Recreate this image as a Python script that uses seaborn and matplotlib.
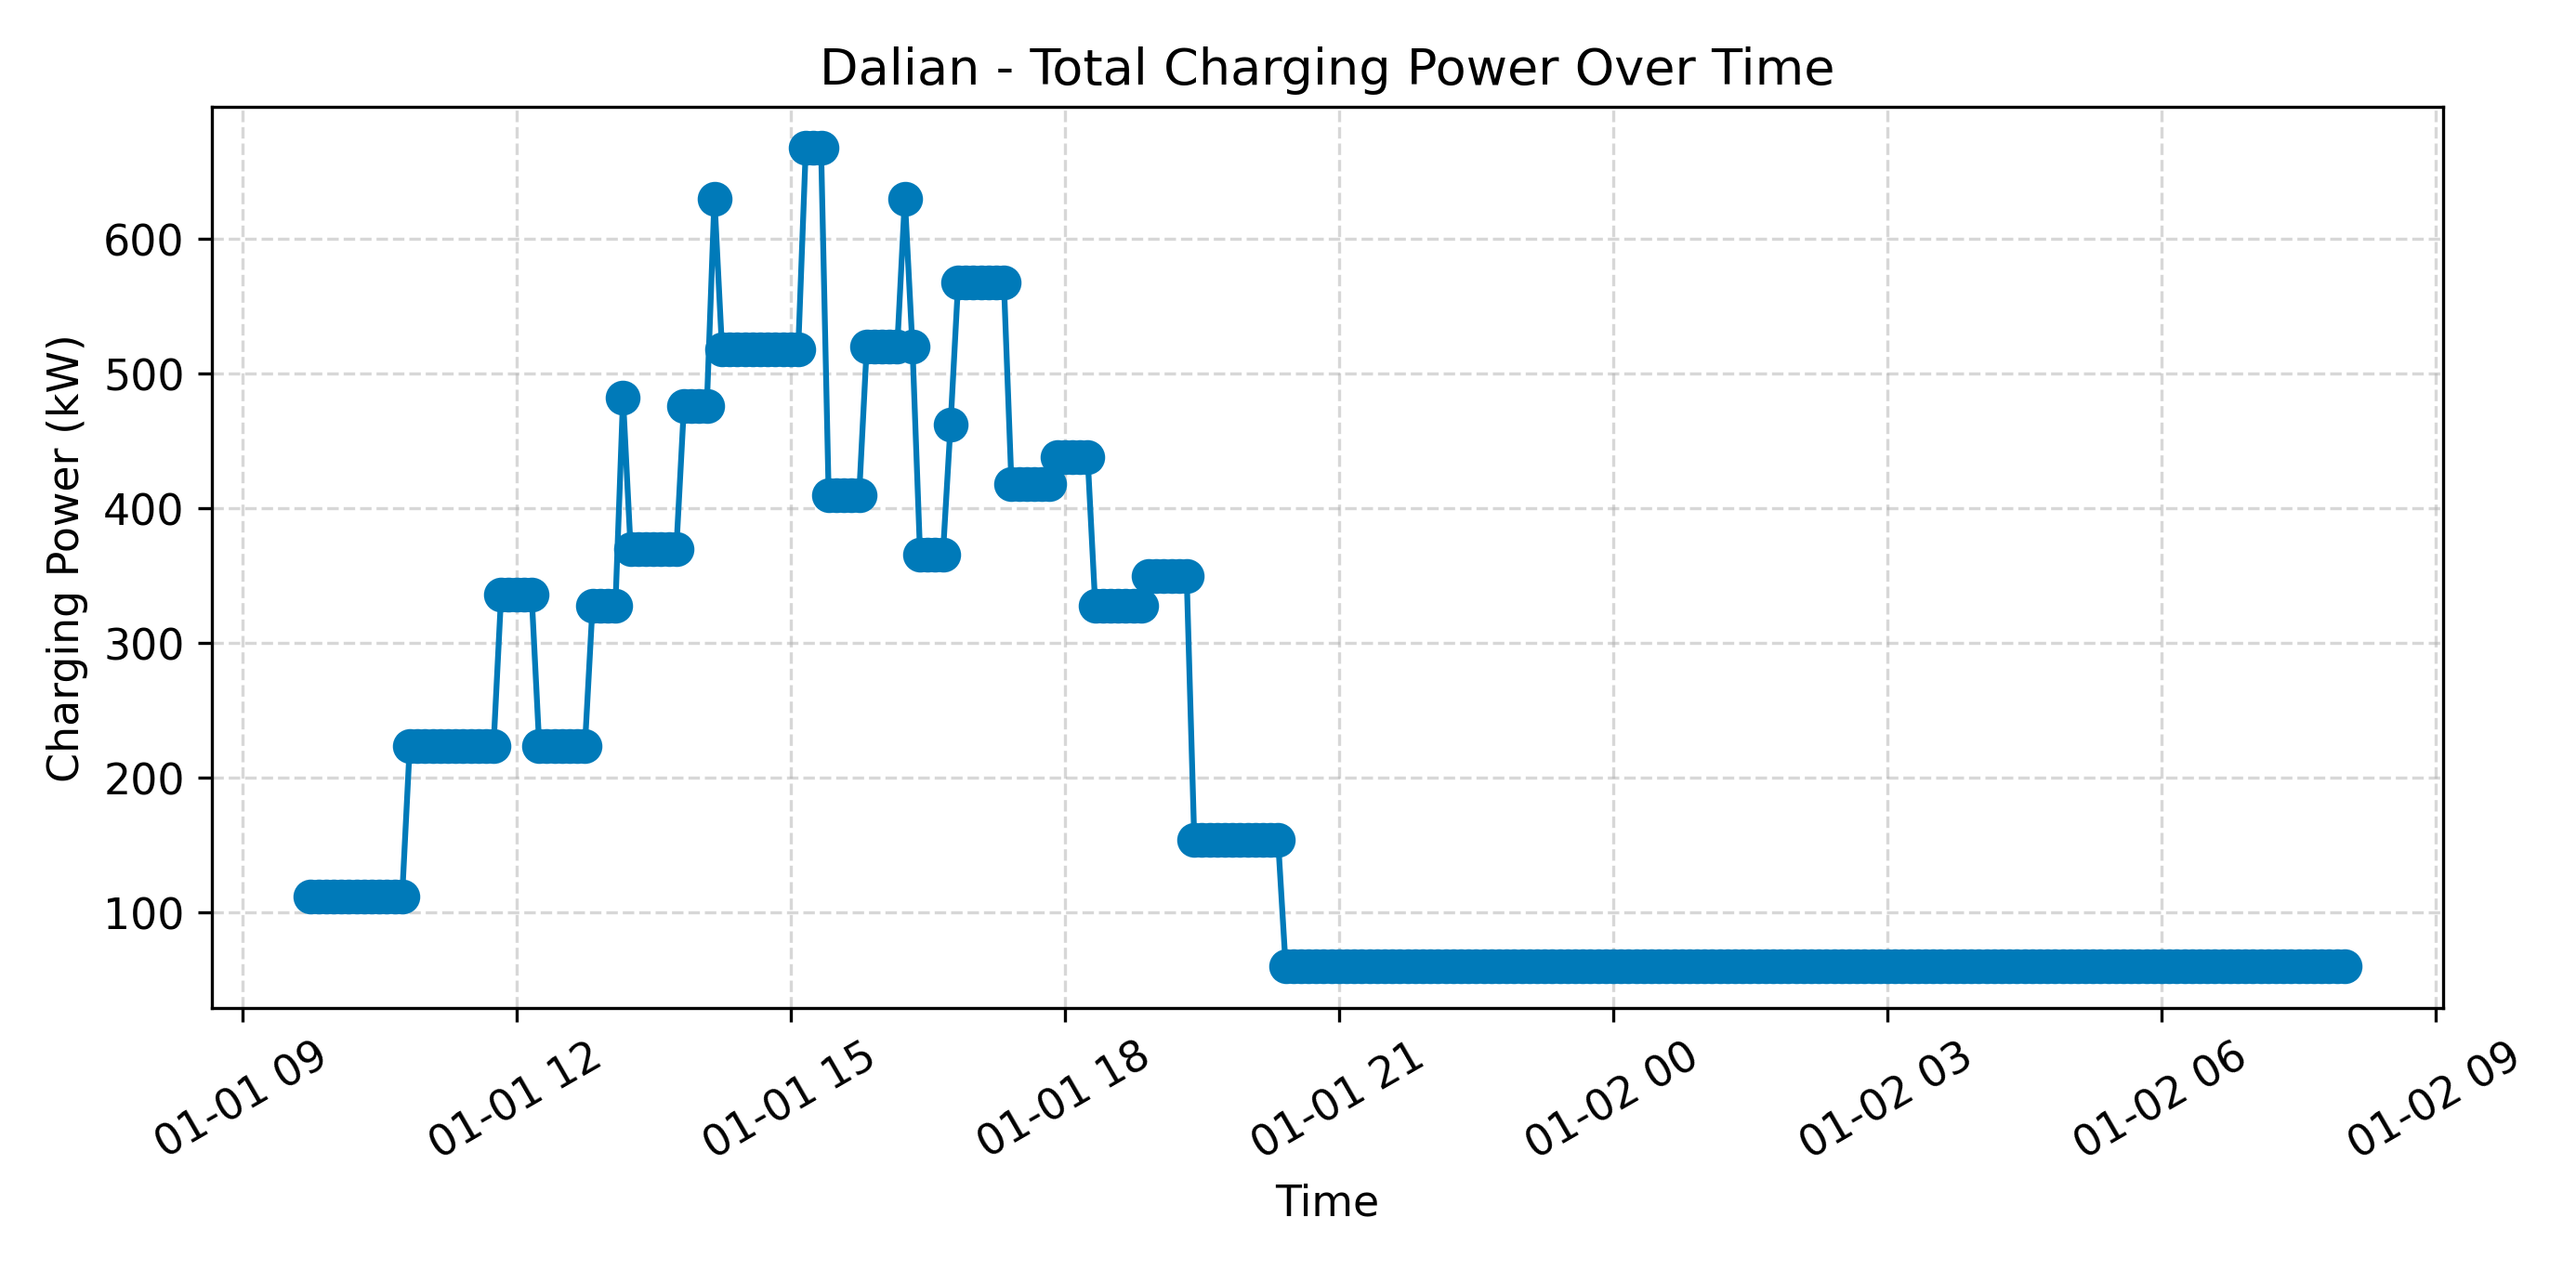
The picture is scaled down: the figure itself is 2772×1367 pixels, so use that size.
import numpy as np
import pandas as pd
import matplotlib
matplotlib.use("Agg")
import matplotlib.pyplot as plt
import matplotlib.dates as mdates
import seaborn as sb

# step levels: (start, end, kW)
seg_start = ["09:45", "10:50", "11:50", "12:15", "12:50", "13:10", "13:15", "13:50", "14:10", "14:15",
             "15:10", "15:25", "15:50", "16:15", "16:20", "16:25", "16:45", "16:50", "17:25", "17:55",
             "18:20", "18:55", "19:25", "20:25"]
seg_end = ["10:45", "11:45", "12:10", "12:45", "13:05", "13:10", "13:45", "14:05", "14:10", "15:05",
           "15:20", "15:45", "16:10", "16:15", "16:20", "16:40", "16:45", "17:20", "17:50", "18:15",
           "18:50", "19:20", "20:20", "32:00"]
seg_power = [112, 224, 336, 224, 328, 482, 370, 476, 630, 518,
             668, 410, 520, 630, 520, 366, 462, 568, 418, 438,
             328, 350, 154, 60]


def to_minutes(s):
    h, m = s.split(":")
    return int(h) * 60 + int(m)


def build_series():
    base = pd.Timestamp("2024-01-01")
    times, power = [], []
    for s, e, p in zip(seg_start, seg_end, seg_power):
        for m in range(to_minutes(s), to_minutes(e) + 1, 5):
            times.append(base + pd.Timedelta(minutes=m))
            power.append(p)
    return pd.DataFrame({"Time": times, "Power": power})


def main():
    plt.rcParams["font.size"] = 11
    data = build_series()
    fig, ax = plt.subplots(figsize=(9.24, 4.56), dpi=300)
    sb.lineplot(data=data, x="Time", y="Power", ax=ax, color="#007ab9",
                marker="o", markersize=9, markeredgewidth=0, linewidth=1.5)
    ax.set_title("Dalian - Total Charging Power Over Time", fontsize=13)
    ax.set_xlabel("Time")
    ax.set_ylabel("Charging Power (kW)")
    ax.grid(True, linestyle="--", alpha=0.5)
    ax.xaxis.set_major_locator(mdates.HourLocator(byhour=range(0, 24, 3)))
    ax.xaxis.set_major_formatter(mdates.DateFormatter("%m-%d %H"))
    ax.set_xlim(pd.Timestamp("2024-01-01 08:40"), pd.Timestamp("2024-01-02 09:05"))
    plt.setp(ax.get_xticklabels(), rotation=30)
    plt.tight_layout()
    plt.savefig("out.png")
    plt.close()


if "__main__" == __name__:
    main()
